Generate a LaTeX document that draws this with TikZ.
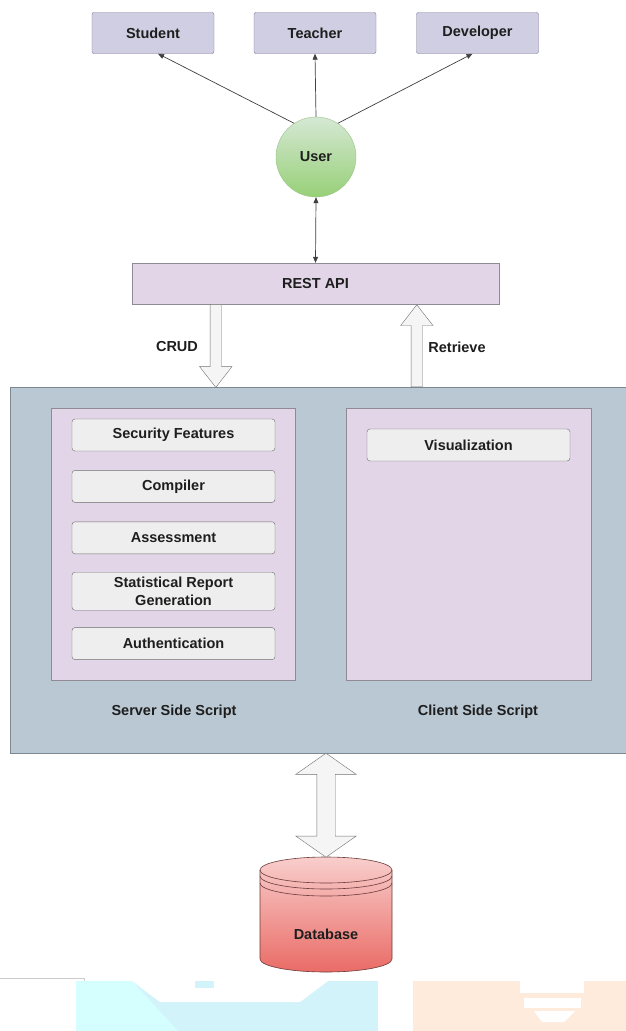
\documentclass[tikz,border=0pt]{standalone}
\usepackage{fontspec}
\setmainfont{Liberation Sans}
\usepackage{tikz}
\usetikzlibrary{arrows.meta,positioning,shapes.arrows,calc}

\definecolor{rolefill}{HTML}{D0CEE2}
\definecolor{roleline}{HTML}{7A7794}
\definecolor{apifill}{HTML}{E1D5E7}
\definecolor{apiline}{HTML}{8F8A93}
\definecolor{serverfill}{HTML}{BAC8D3}
\definecolor{serverline}{HTML}{7C8790}
\definecolor{itemfill}{HTML}{EEEEEE}
\definecolor{itemline}{HTML}{6E6E6E}
\definecolor{fatfill}{HTML}{F5F5F5}
\definecolor{userlight}{HTML}{D5E8D4}
\definecolor{userdark}{HTML}{97D077}
\definecolor{userline}{HTML}{9CC58A}
\definecolor{dblight}{HTML}{F8CECC}
\definecolor{dbdark}{HTML}{EA6B66}
\definecolor{dbline}{HTML}{6B3B3A}
\definecolor{wmcyan}{HTML}{D3F3FB}
\definecolor{wmcyanlight}{HTML}{D5FEFF}
\definecolor{wmpeach}{HTML}{FEEBDC}
\definecolor{inktext}{HTML}{1E1E1E}

\begin{document}
\begin{tikzpicture}[x=1pt, y=-1pt, >={Triangle[length=6pt,width=5pt]},
  every node/.style={font={\fontsize{14.5}{18}\selectfont\bfseries}, text=inktext},
  rolebox/.style={draw=roleline, fill=rolefill, rounded corners=2pt,
    minimum width=122pt, minimum height=41pt},
  panel/.style={draw=apiline, fill=apifill, minimum width=244pt, minimum height=272pt},
  itembox/.style={draw=itemline, fill=itemfill, rounded corners=3pt, align=center,
    minimum width=203pt, minimum height=32pt, inner ysep=1pt},
  link/.style={draw=black!75, line width=0.7pt},
  fatarrow/.style={single arrow, draw=black!55, fill=fatfill, inner xsep=0pt,
    inner ysep=5.5pt, single arrow head extend=10.5pt, single arrow tip angle=76},
  fatdouble/.style={double arrow, draw=black!55, fill=fatfill, inner xsep=0pt,
    inner ysep=9pt, double arrow head extend=21pt, double arrow tip angle=110}]
  \clip (0,0) rectangle (626,1031);
  \fill[white] (0,0) rectangle (626,1031);

  % users of the system
  \node[rolebox] (student) at (153,33) {Student};
  \node[rolebox] (teacher) at (315,33) {Teacher};
  \node[rolebox] (developer) at (477.5,33) {Developer};

  \node[circle, draw=userline, top color=userlight, bottom color=userdark,
    minimum size=80pt, inner sep=0pt] (user) at (316,157) {User};

  \draw[link, ->] (user.123) -- ([xshift=5pt]student.south);
  \draw[link, ->] (user.north) -- (teacher.south);
  \draw[link, ->] (user.57) -- ([xshift=-5pt]developer.south);

  % api layer
  \node[draw=apiline, fill=apifill, minimum width=367pt, minimum height=41pt]
    (api) at (315.5,283.5) {REST API};
  \draw[link, <->] (user.south) -- (api.north);

  % application container
  \node[draw=serverline, fill=serverfill, minimum width=620pt, minimum height=366pt,
    anchor=north west] (main) at (10,387) {};

  \node[panel] (server) at (173,544) {};
  \node[panel, minimum width=245pt] (client) at (468.5,544) {};

  \node[itembox] (security) at (173.5,435) {Security Features};
  \node[itembox, below=19pt of security] (compiler) {Compiler};
  \node[itembox, below=19pt of compiler] (assess) {Assessment};
  \node[itembox, below=18pt of assess, minimum height=38pt] (report)
    {Statistical Report\\Generation};
  \node[itembox, below=17pt of report] (auth) {Authentication};

  \node[itembox] (visual) at (468.5,445) {Visualization};

  \node (serverlabel) at (174,712) {Server Side Script};
  \node (clientlabel) at (478,712) {Client Side Script};

  % crud / retrieve
  \coordinate (crudtop) at ([xshift=84pt]api.south west);
  \coordinate (retrtop) at ([xshift=285pt]api.south west);
  \path (crudtop) -- (crudtop |- main.north)
    node[pos=0, anchor=tail, sloped, allow upside down, fatarrow, minimum height=83pt] (crud) {};
  \path (retrtop |- main.north) -- (retrtop)
    node[pos=0, anchor=tail, sloped, allow upside down, fatarrow, minimum height=82pt] (retrieve) {};
  \node (crudlabel) at (177,347) {CRUD};
  \node (retrlabel) at (457,347) {Retrieve};

  % database
  \coordinate (dbtop) at (326,857);
  \shade[top color=dblight, bottom color=dbdark, draw=dbline, line width=0.6pt]
    (260,870) -- (260,959) arc[start angle=180, end angle=360, x radius=66pt, y radius=13pt]
    -- (392,870) arc[start angle=0, end angle=180, x radius=66pt, y radius=13pt] -- cycle;
  \foreach \yy in {870,876,883}
    \draw[dbline, line width=0.6pt] (260,\yy)
      arc[start angle=180, end angle=360, x radius=66pt, y radius=13pt];
  \node (database) at (326,934) {Database};
  \path (dbtop |- main.south) -- (dbtop)
    node[midway, sloped, allow upside down, fatdouble, minimum height=104pt] (dbarrow) {};

  % strip at the foot
  \draw[black!20, line width=1pt] (0,978) -- (84,978) -- (84,982);
  \fill[wmcyan] (76,981) rectangle (378,1031);
  \fill[wmcyanlight] (76,981) -- (132,981) -- (178,1031) -- (76,1031) -- cycle;
  \fill[white] (132,981) -- (328,981) -- (300,1002) -- (160,1002) -- cycle;
  \fill[wmcyan] (195,981) rectangle (214,988);
  \fill[wmpeach] (413,981) rectangle (626,1031);
  \fill[white] (520,981) rectangle (584,993);
  \fill[white] (524,998) rectangle (581,1008);
  \fill[white] (534,1011) -- (575,1011) -- (564,1022) -- (542,1022) -- cycle;
\end{tikzpicture}
\end{document}
